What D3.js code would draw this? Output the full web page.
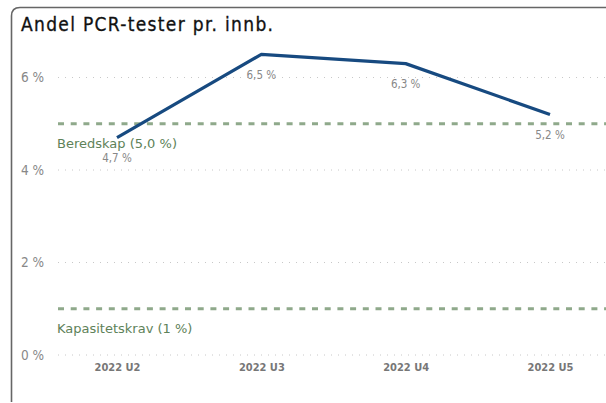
<!DOCTYPE html>
<html>
<head>
<meta charset="utf-8">
<script src="https://cdn.jsdelivr.net/npm/d3@7"></script>
<style>
  html, body { margin: 0; padding: 0; background: #fff; }
  svg { display: block; font-family: "DejaVu Sans Condensed", "DejaVu Sans", sans-serif; }
</style>
</head>
<body>
<svg id="chart" width="606" height="403"></svg>
<script>
// Chart data
var categories = ["2022 U2", "2022 U3", "2022 U4", "2022 U5"];
var values = [4.7, 6.5, 6.3, 5.2];
var valueLabels = ["4,7 %", "6,5 %", "6,3 %", "5,2 %"];
var yTicks = [0, 2, 4, 6];
var refValues = [5, 1];
var refLabels = ["Beredskap (5,0 %)", "Kapasitetskrav (1 %)"];
var title = "Andel PCR-tester pr. innb.";

var svg = d3.select("#chart");

// Card frame (open at right and bottom like the cropped tile)
svg.append("path")
    .attr("d", "M11.5,402 L11.5,16 Q11.5,7.5 20,7.5 L606,7.5")
    .attr("fill", "none")
    .attr("stroke", "#666")
    .attr("stroke-width", 1.6);

// Title
svg.append("text")
    .attr("x", 21)
    .attr("y", 31)
    .attr("font-size", 19)
    .attr("textLength", 252)
    .attr("lengthAdjust", "spacing")
    .attr("fill", "#111")
    .attr("stroke", "#111")
    .attr("stroke-width", 0.3)
    .text(title);

// Scales
var plotLeft = 58, plotRight = 606;
var x = d3.scalePoint().domain(categories).range([117, 550]);
var y = d3.scaleLinear().domain([0, 6]).range([355, 77.5]);

// Dotted gridlines
svg.append("g")
    .selectAll("line")
    .data(yTicks)
    .join("line")
    .attr("x1", plotLeft)
    .attr("x2", plotRight)
    .attr("y1", function(d) { return y(d); })
    .attr("y2", function(d) { return y(d); })
    .attr("stroke", "#c8c8c8")
    .attr("stroke-width", 1)
    .attr("stroke-dasharray", "1,6");

// Y axis labels
var yAxis = svg.append("g")
    .attr("transform", "translate(44,0)")
    .call(d3.axisLeft(y).tickValues(yTicks).tickSize(0).tickPadding(0)
        .tickFormat(function(d) { return d + " %"; }));
yAxis.select(".domain").remove();
yAxis.selectAll("text")
    .attr("font-family", "\"DejaVu Sans Condensed\", \"DejaVu Sans\", sans-serif")
    .attr("font-size", 13.5)
    .attr("fill", "#888");

// X axis labels
var xAxis = svg.append("g")
    .attr("transform", "translate(0,363)")
    .call(d3.axisBottom(x).tickSize(0).tickPadding(0));
xAxis.select(".domain").remove();
xAxis.selectAll("text")
    .attr("font-family", "\"DejaVu Sans Condensed\", \"DejaVu Sans\", sans-serif")
    .attr("font-size", 11)
    .attr("font-weight", "bold")
    .attr("fill", "#777");

// Reference lines
svg.append("g")
    .selectAll("line")
    .data(refValues)
    .join("line")
    .attr("x1", plotLeft)
    .attr("x2", plotRight)
    .attr("y1", function(d) { return y(d); })
    .attr("y2", function(d) { return y(d); })
    .attr("stroke", "#8fa98b")
    .attr("stroke-width", 3)
    .attr("stroke-dasharray", "6,6.7");

svg.append("g")
    .selectAll("text")
    .data(refValues)
    .join("text")
    .attr("x", plotLeft - 1)
    .attr("y", function(d) { return y(d) + 24.5; })
    .attr("font-family", "\"DejaVu Sans\", sans-serif")
    .attr("font-size", 13)
    .attr("fill", "#5e8259")
    .text(function(d, i) { return refLabels[i]; });

// Series line
var line = d3.line()
    .x(function(d, i) { return x(categories[i]); })
    .y(function(d) { return y(d); });

svg.append("path")
    .datum(values)
    .attr("d", line)
    .attr("fill", "none")
    .attr("stroke", "#174a80")
    .attr("stroke-width", 3.2)
    .attr("stroke-linejoin", "round");

// Data labels
svg.append("g")
    .selectAll("text")
    .data(values)
    .join("text")
    .attr("x", function(d, i) { return x(categories[i]); })
    .attr("y", function(d) { return y(d) + 24.5; })
    .attr("text-anchor", "middle")
    .attr("font-size", 11.5)
    .attr("fill", "#888")
    .text(function(d, i) { return valueLabels[i]; });
</script>
</body>
</html>
